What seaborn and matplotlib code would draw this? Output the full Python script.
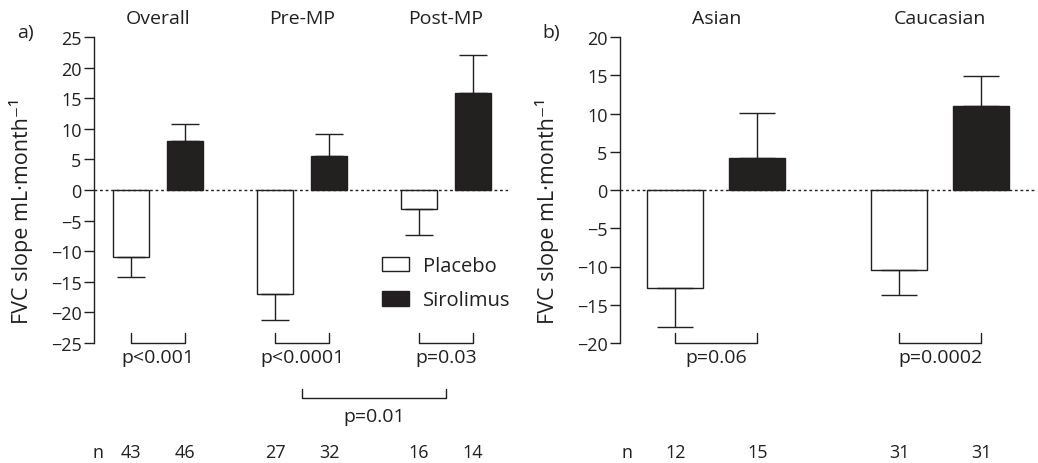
import pandas as pd
import numpy as np
import seaborn as sns
import matplotlib.pyplot as plt
from matplotlib.transforms import blended_transform_factory

# Data (mean FVC slope, one-sided SEM bars)
groups_a = ['Overall', 'Pre-MP', 'Post-MP']
placebo_a = [-11.0, -17.0, -3.1]
placebo_a_err = [3.2, 4.2, 4.3]
sirolimus_a = [8.0, 5.5, 15.8]
sirolimus_a_err = [2.8, 3.6, 6.2]
n_placebo_a = [43, 27, 16]
n_sirolimus_a = [46, 32, 14]
p_a = ['p<0.001', 'p<0.0001', 'p=0.03']
p_pre_post = 'p=0.01'

groups_b = ['Asian', 'Caucasian']
placebo_b = [-12.8, -10.5]
placebo_b_err = [5.1, 3.2]
sirolimus_b = [4.2, 11.0]
sirolimus_b_err = [5.9, 3.9]
n_placebo_b = [12, 31]
n_sirolimus_b = [15, 31]
p_b = ['p=0.06', 'p=0.0002']

treatments = ['Placebo', 'Sirolimus']
dark = '#231f20'
palette = {'Placebo': 'white', 'Sirolimus': dark}
fs = 13

sns.set_style('ticks')
plt.rcParams['font.family'] = ['Open Sans', 'DejaVu Sans']
plt.rcParams['font.size'] = fs
plt.rcParams['text.color'] = dark
plt.rcParams['axes.labelcolor'] = dark
plt.rcParams['xtick.color'] = dark
plt.rcParams['ytick.color'] = dark
plt.rcParams['axes.edgecolor'] = dark

fig = plt.figure(figsize=(10.38, 4.64), dpi=100)
ax_a = fig.add_axes([94 / 1038, 1 - 344 / 464, 414 / 1038, 306 / 464])
ax_b = fig.add_axes([620 / 1038, 1 - 344 / 464, 415 / 1038, 306 / 464])


def make_df(groups, plac, sir):
    return pd.DataFrame({
        'group': groups * 2,
        'treatment': ['Placebo'] * len(groups) + ['Sirolimus'] * len(groups),
        'slope': plac + sir,
    })


def bracket(ax, x0, x1, ybot, ytop):
    tr = blended_transform_factory(ax.transData, fig.transFigure)
    ax.plot([x0, x0, x1, x1], [ytop, ybot, ybot, ytop], color=dark, lw=1,
            transform=tr, clip_on=False)


def draw_panel(ax, groups, plac, plac_err, sir, sir_err, n_p, n_s, pvals,
               ylim, step, xlim, width, gap, capsize, letter):
    df = make_df(groups, plac, sir)
    sns.barplot(data=df, x='group', y='slope', hue='treatment', order=groups,
                hue_order=treatments, palette=palette, edgecolor=dark,
                linewidth=1, width=width, gap=gap, legend=False, ax=ax)
    tr = blended_transform_factory(ax.transData, fig.transFigure)
    centers = []
    for cont, vals, errs in zip(ax.containers, [plac, sir], [plac_err, sir_err]):
        xs = [p.get_x() + p.get_width() / 2 for p in cont.patches]
        centers.append(xs)
        lower = [e if v < 0 else 0 for v, e in zip(vals, errs)]
        upper = [e if v >= 0 else 0 for v, e in zip(vals, errs)]
        ax.errorbar(xs, vals, yerr=[lower, upper], fmt='none', ecolor=dark,
                    elinewidth=1, capsize=capsize, capthick=1, zorder=1)
    ax.axhline(0, color=dark, lw=1, ls=(0, (2, 2)), zorder=3)
    ax.set_ylim(*ylim)
    ax.set_xlim(*xlim)
    ax.set_yticks(np.arange(ylim[0], ylim[1] + 1, step))
    ax.set_xticks([])
    ax.set_xlabel('')
    ax.set_ylabel('FVC slope mL·month⁻¹', fontsize=15.5)
    ax.yaxis.set_label_coords(-0.147, 0.435)
    ax.tick_params(axis='y', length=7, width=1, labelsize=fs, pad=2)
    sns.despine(ax=ax, bottom=True)
    ax.spines['left'].set_linewidth(1)

    for i, g in enumerate(groups):
        ax.text(i, 1 - 19 / 464, g, transform=tr, ha='center', va='center', fontsize=14)
        bracket(ax, centers[0][i], centers[1][i], 1 - 344 / 464, 1 - 334 / 464)
        ax.text((centers[0][i] + centers[1][i]) / 2, 1 - 358 / 464, pvals[i],
                transform=tr, ha='center', va='center', fontsize=14)
        ax.text(centers[0][i], 1 - 453 / 464, str(n_p[i]), transform=tr,
                ha='center', va='center')
        ax.text(centers[1][i], 1 - 453 / 464, str(n_s[i]), transform=tr,
                ha='center', va='center')
    ax.text(xlim[0] + 0.03, 1 - 453 / 464, 'n', transform=tr, ha='center', va='center')
    ax.text(-0.165, 1 - 33 / 464, letter,
            transform=blended_transform_factory(ax.transAxes, fig.transFigure),
            ha='center', va='center', fontsize=14)


draw_panel(ax_a, groups_a, placebo_a, placebo_a_err, sirolimus_a, sirolimus_a_err,
           n_placebo_a, n_sirolimus_a, p_a, (-25, 25), 5, (-0.444, 2.43),
           0.75, 0.333, 10, 'a)')
draw_panel(ax_b, groups_b, placebo_b, placebo_b_err, sirolimus_b, sirolimus_b_err,
           n_placebo_b, n_sirolimus_b, p_b, (-20, 20), 5, (-0.43, 1.422),
           0.732, 0.317, 13, 'b)')

# Pre-MP vs Post-MP comparison
bracket(ax_a, 1, 2, 1 - 399 / 464, 1 - 390 / 464)
ax_a.text(1.5, 1 - 417 / 464, p_pre_post,
          transform=blended_transform_factory(ax_a.transData, fig.transFigure),
          ha='center', va='center', fontsize=14)

# Legend
handles = [plt.Rectangle((0, 0), 1, 1, facecolor=palette[t], edgecolor=dark, lw=1)
           for t in treatments]
ax_a.legend(handles, treatments, loc='upper left', bbox_to_anchor=(382 / 1038, 1 - 257 / 464),
            bbox_transform=fig.transFigure, frameon=False, fontsize=14.5,
            handlelength=1.34, handleheight=0.75, labelspacing=0.72, handletextpad=0.7,
            borderaxespad=0, borderpad=0)

fig.savefig('out.png', dpi=100)
